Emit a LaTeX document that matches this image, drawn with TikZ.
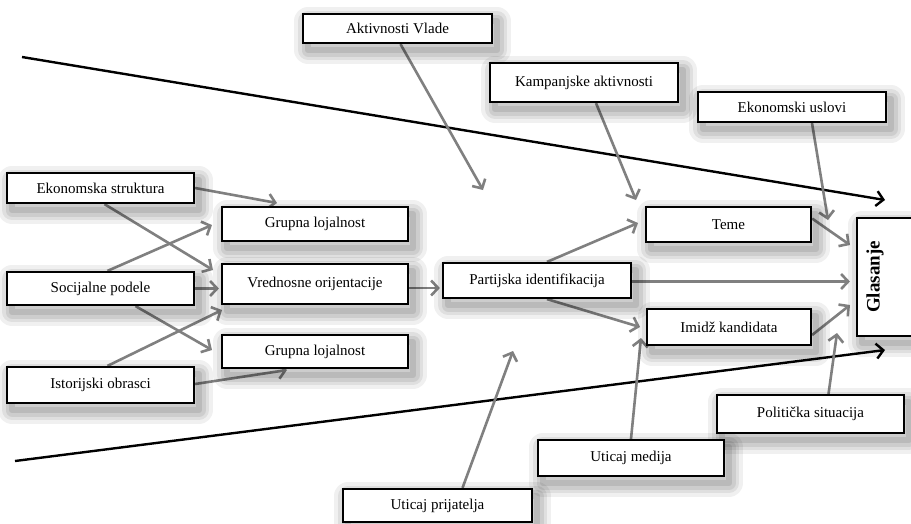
\documentclass[tikz,border=0pt]{standalone}
\usepackage{fontspec}
\setmainfont{Liberation Serif}
\usetikzlibrary{arrows.meta,calc}
\pgfdeclarelayer{bg}
\pgfdeclarelayer{paper}
\pgfsetlayers{paper,bg,main}
\definecolor{arrgray}{RGB}{128,128,128}
\begin{document}
\begin{tikzpicture}[x=1pt,y=-1pt,
  shd/.style 2 args={preaction={draw=black, draw opacity=#1, line width=#2, line join=round,
      transform canvas={xshift=5pt,yshift=-7pt}}},
  box/.style={draw=black, line width=2.2pt, fill=white, inner sep=0pt,
    font=\fontsize{15}{17}\selectfont,
    shd={0.06}{28pt}, shd={0.07}{20pt}, shd={0.08}{13pt}, shd={0.09}{6pt}},
  garr/.style={draw=arrgray, line width=2.6pt, -{Straight Barb[length=7pt,width=15pt]}},
  barr/.style={draw=black, line width=2.4pt, -{Straight Barb[length=7pt,width=15pt]}},
  gtext/.style={font=\fontsize{19}{21}\selectfont\bfseries, rotate=90}
]
\useasboundingbox (0,0) rectangle (911,523);
\clip (0,0) rectangle (911,523);
\begin{pgfonlayer}{paper}
\fill[white] (0,0) rectangle (911,523);
\end{pgfonlayer}

% boxes
\node[box, minimum width=189, minimum height=29] (akt)  at (397.5,28.5) {Aktivnosti Vlade};
\node[box, minimum width=188, minimum height=39] (kamp) at (584,82.5)   {Kampanjske aktivnosti};
\node[box, minimum width=188, minimum height=30] (eus)  at (792,107)    {Ekonomski uslovi};
\node[box, minimum width=187, minimum height=30] (ekon) at (100.5,188)  {Ekonomska struktura};
\node[box, minimum width=186, minimum height=34] (gl1)  at (315,224)    {Grupna lojalnost};
\node[box, minimum width=187, minimum height=33] (soc)  at (100.5,288.5){Socijalne podele};
\node[box, minimum width=186, minimum height=40] (vred) at (315,284)    {Vrednosne orijentacije};
\node[box, minimum width=186, minimum height=33] (gl2)  at (315,351.5)  {Grupna lojalnost};
\node[box, minimum width=187, minimum height=36] (ist)  at (100.5,385)  {Istorijski obrasci};
\node[box, minimum width=188, minimum height=35] (part) at (537,280.5)  {Partijska identifikacija};
\node[box, minimum width=165, minimum height=35] (teme) at (728.5,224.5){Teme};
\node[box, minimum width=164, minimum height=36] (imidz) at (729,327)   {Imidž kandidata};
\node[box, minimum width=78,  minimum height=118] (glas) at (896,277)   {};
\node[gtext] (glastxt) at (875,277) {Glasanje};
\node[box, minimum width=187, minimum height=38] (pol)  at (810.5,414)  {Politička situacija};
\node[box, minimum width=186, minimum height=36] (med)  at (631,458)    {Uticaj medija};
\node[box, minimum width=189, minimum height=33] (prij) at (437.5,505.5){Uticaj prijatelja};

% free ends
\coordinate (t1) at (277,203);
\coordinate (t2) at (213,270);
\coordinate (t3) at (212,225);
\coordinate (t5) at (212,350);
\coordinate (t6) at (222,310);
\coordinate (t7) at (287,370);
\coordinate (t9) at (483,190);
\coordinate (t10) at (636,200);
\coordinate (t11) at (828,220);
\coordinate (t12) at (638,223);
\coordinate (t14) at (640,327);
\coordinate (t15) at (850,245);
\coordinate (t16) at (850,305);
\coordinate (t17) at (513,351);
\coordinate (t18) at (641,338);
\coordinate (t19) at (837,333);
\coordinate (b1s) at (22,57);
\coordinate (b1e) at (885,200);
\coordinate (b2s) at (15,461);
\coordinate (b2e) at (885,350);

\begin{pgfonlayer}{bg}
\draw[barr] (b1s) -- (b1e);
\draw[barr] (b2s) -- (b2e);
\draw[garr] (ekon.east) -- (t1);
\draw[garr] ($(ekon.south)+(4,0)$) -- (t2);
\draw[garr] ($(soc.north)+(7,0)$) -- (t3);
\draw[garr] (soc.east) -- ($(soc.east -| vred.west)+(-2,0)$);
\draw[garr] ($(soc.south)+(35,0)$) -- (t5);
\draw[garr] ($(ist.north)+(7,0)$) -- (t6);
\draw[garr] ($(ist.east)+(0,-1)$) -- (t7);
\draw[garr] ($(vred.east)+(0,4)$) -- ($(vred.east -| part.west)+(-2,4)$);
\draw[garr] ($(akt.south)+(3,0)$) -- (t9);
\draw[garr] ($(kamp.south)+(12,0)$) -- (t10);
\draw[garr] ($(eus.south)+(20,0)$) -- (t11);
\draw[garr] ($(part.north)+(10,0)$) -- (t12);
\draw[garr] ($(part.east)+(0,1)$) -- ($(part.east -| glas.west)+(-6,1)$);
\draw[garr] ($(part.south)+(10,0)$) -- (t14);
\draw[garr] ($(teme.east)+(0,-6)$) -- (t15);
\draw[garr] ($(imidz.east)+(0,8)$) -- (t16);
\draw[garr] ($(prij.north)+(25,0)$) -- (t17);
\draw[garr] (med.north) -- (t18);
\draw[garr] ($(pol.north)+(18,0)$) -- (t19);
\end{pgfonlayer}
\end{tikzpicture}
\end{document}
